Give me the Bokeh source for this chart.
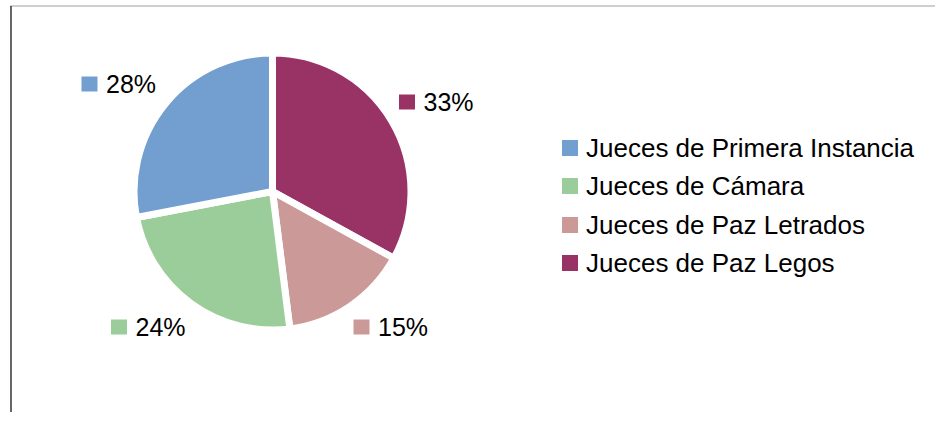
import math
from bokeh.plotting import figure
from bokeh.models import Range1d, ColumnDataSource
from bokeh.core.properties import value
from bokeh.embed import file_html
from bokeh.resources import INLINE

# ---- data ----
categories = ["Jueces de Primera Instancia", "Jueces de Cámara",
              "Jueces de Paz Letrados", "Jueces de Paz Legos"]
percent = [28, 24, 15, 33]
colors = ["#729fcf", "#9acd9a", "#cc9999", "#993366"]

# ---- layout (screen pixels) ----
W, H = 935, 412
def sx(x):
    return x
def sy(y):
    return H - y

center = (272, 191)
radius = 138.5
label_sq = [(89, 83.5), (118.5, 326.5), (361, 326.5), (406.5, 101.5)]
legend_x = 569.5
legend_y = [147.5, 185.5, 224.5, 262.5]
FONT = "Liberation Sans"

p = figure(width=W, height=H, x_range=Range1d(0, W), y_range=Range1d(0, H),
           output_backend="svg", toolbar_location=None, min_border=0)
p.axis.visible = False
p.grid.visible = False
p.outline_line_color = None
p.background_fill_color = "white"
p.border_fill_color = "white"

# frame lines
p.segment(x0=[sx(10), sx(10.5)], y0=[sy(5.5), sy(5.5)],
          x1=[sx(935), sx(10.5)], y1=[sy(5.5), sy(412)],
          line_color=["#a0a0a0", "#000000"], line_width=1.2)

# pie: clockwise from 12 o'clock, in reverse of legend order
total = sum(percent)
starts, ends, wcols = [], [], []
cum = 0.0
for i in reversed(range(len(percent))):
    a0 = math.pi / 2 - 2 * math.pi * (cum + percent[i]) / total
    a1 = math.pi / 2 - 2 * math.pi * cum / total
    starts.append(a0)
    ends.append(a1)
    wcols.append(colors[i])
    cum += percent[i]
src = ColumnDataSource(dict(x=[sx(center[0])] * len(starts), y=[sy(center[1])] * len(starts),
                            start=starts, end=ends, color=wcols))
p.wedge(x="x", y="y", radius=radius, radius_units="screen", start_angle="start",
        end_angle="end", fill_color="color", line_color="white", line_width=7, source=src)

# data labels
lsrc = ColumnDataSource(dict(
    x=[sx(c[0]) for c in label_sq], y=[sy(c[1]) for c in label_sq],
    tx=[sx(c[0] + 16.5) for c in label_sq],
    txt=[f"{v}%" for v in percent], color=colors))
p.rect(x="x", y="y", width=16, height=15, width_units="screen", height_units="screen",
       fill_color="color", line_color=None, source=lsrc)
p.text(x="tx", y="y", text="txt", text_font=value(FONT), text_font_size="25px",
       text_baseline="middle", text_align="left", text_color="#000000", source=lsrc)

# legend
gsrc = ColumnDataSource(dict(
    x=[sx(legend_x)] * len(categories), y=[sy(v) for v in legend_y],
    tx=[sx(legend_x + 16)] * len(categories), txt=categories, color=colors))
p.rect(x="x", y="y", width=16, height=16, width_units="screen", height_units="screen",
       fill_color="color", line_color=None, source=gsrc)
p.text(x="tx", y="y", text="txt", text_font=value(FONT), text_font_size="26px",
       text_baseline="middle", text_align="left", text_color="#000000", source=gsrc)

open("out.html", "w").write(file_html(p, INLINE))
